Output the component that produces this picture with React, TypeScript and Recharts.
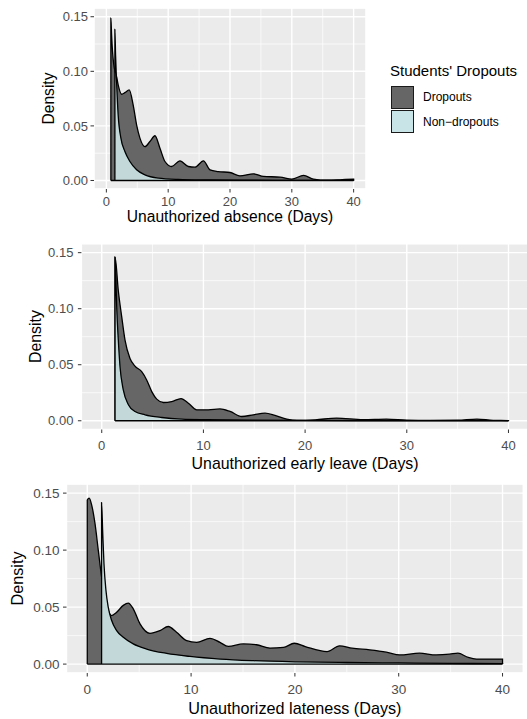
import { ComposedChart, Area, Line, XAxis, YAxis, CartesianGrid } from 'recharts';

const FONT = '"Liberation Sans", Arial, Helvetica, sans-serif';

// axis breaks shared by the three panels
const xTicks = [0, 10, 20, 30, 40];
const xMinorTicks = [5, 15, 25, 35];
const yTicks = [0, 0.05, 0.1, 0.15];
const yMinorTicks = [0.025, 0.075, 0.125];
const X_DOMAIN = [-2, 42];
const Y_DOMAIN = [-0.0078, 0.158];

// unauthorized absence
const absenceDropX = [0.73, 0.73, 0.85, 1.0, 1.2, 1.45, 1.65, 1.91, 2.46, 3.0, 3.7, 4.34, 4.89, 5.43, 6.24, 7.05, 7.86, 8.67, 9.48, 10.57, 11.9, 13.26, 14.34, 15.7, 16.77, 18.1, 20.0, 21.6, 23.8, 25.4, 28.1, 30.0, 31.9, 33.5, 35.7, 37.8, 40, 40];
const absenceDropY = [0, 0.1486, 0.133, 0.118, 0.106, 0.099, 0.095, 0.0876, 0.079, 0.0805, 0.083, 0.069, 0.051, 0.0388, 0.031, 0.0357, 0.041, 0.0296, 0.0174, 0.0128, 0.018, 0.0128, 0.0122, 0.018, 0.0098, 0.0082, 0.0073, 0.0043, 0.0061, 0.0037, 0.0031, 0.0013, 0.0046, 0.0013, 0.0002, 0.0006, 0.0013, 0];
const absenceNonX = [1.38, 1.38, 1.49, 1.65, 1.91, 2.35, 3.0, 3.81, 4.89, 6.24, 8.4, 11.6, 16, 22, 30, 40, 40];
const absenceNonY = [0, 0.1385, 0.115, 0.0906, 0.06, 0.0388, 0.0265, 0.0174, 0.0098, 0.0052, 0.0022, 0.001, 0.0005, 0.0003, 0.0001, 0.0001, 0];

// unauthorized early leave
const earlyDropX = [1.31, 1.31, 1.63, 1.97, 2.29, 2.78, 3.27, 3.93, 4.42, 4.92, 5.41, 6.06, 6.88, 7.8, 8.52, 9.34, 10.48, 11.63, 12.62, 13.77, 14.91, 16.06, 17.04, 18.19, 19.2, 21, 23.1, 25.7, 28.0, 30, 32.3, 35, 36.9, 38.5, 40, 40];
const earlyDropY = [0, 0.146, 0.116, 0.0925, 0.072, 0.0556, 0.0488, 0.0438, 0.0364, 0.026, 0.0193, 0.0163, 0.0171, 0.0198, 0.0157, 0.0098, 0.0098, 0.0106, 0.0083, 0.0038, 0.0053, 0.0068, 0.0048, 0.0015, 0.0003, 0.0008, 0.0024, 0.001, 0.0015, 0.0006, 0.0003, 0.0005, 0.0015, 0.0004, 0.0002, 0];
const earlyNonX = [1.31, 1.31, 1.38, 1.47, 1.63, 1.8, 2.12, 2.62, 3.27, 4.26, 5.9, 7.87, 10.4, 15, 25, 40, 40];
const earlyNonY = [0, 0.146, 0.131, 0.102, 0.072, 0.048, 0.0276, 0.0143, 0.0083, 0.0053, 0.0029, 0.0015, 0.001, 0.0005, 0.0002, 0.0001, 0];

// unauthorized lateness
const latenessDropX = [0, 0, 0.19, 0.42, 0.74, 1.06, 1.38, 1.7, 2.02, 2.35, 2.83, 3.47, 3.95, 4.43, 5.08, 6.04, 7.0, 7.8, 8.6, 9.58, 10.54, 11.82, 12.78, 13.58, 15.03, 16.3, 17.6, 18.9, 19.95, 21.0, 23.1, 24.3, 25.5, 27.2, 28.8, 30.1, 32.0, 33.6, 34.9, 35.7, 36.7, 37.5, 40, 40];
const latenessDropY = [0, 0.144, 0.1456, 0.1397, 0.1236, 0.1, 0.0765, 0.0588, 0.047, 0.0426, 0.0455, 0.0515, 0.0535, 0.0485, 0.0353, 0.027, 0.0294, 0.033, 0.0279, 0.0206, 0.0191, 0.0226, 0.0191, 0.0155, 0.0177, 0.017, 0.0141, 0.0147, 0.0183, 0.0154, 0.011, 0.016, 0.014, 0.0125, 0.0105, 0.0081, 0.0096, 0.0081, 0.0087, 0.0096, 0.0058, 0.0044, 0.0044, 0];
const latenessNonX = [1.38, 1.38, 1.48, 1.61, 1.8, 2.02, 2.35, 2.83, 3.47, 4.43, 5.72, 7.65, 9.9, 12.8, 16, 20.2, 25, 30, 35, 40, 40];
const latenessNonY = [0, 0.1417, 0.1177, 0.088, 0.0647, 0.05, 0.0382, 0.0294, 0.0235, 0.0177, 0.0132, 0.0094, 0.0067, 0.0044, 0.003, 0.002, 0.0014, 0.001, 0.0006, 0.0004, 0];

const DROP_FILL = '#666666';
const NON_FILL = '#c3d8d9';

const toPoints = (xs: number[], ys: number[]) => xs.map((x, i) => ({ x, y: ys[i] }));

interface PanelProps {
  title: string;
  dropX: number[];
  dropY: number[];
  nonX: number[];
  nonY: number[];
  width: number;
  height: number;
  margin: { top: number; right: number; bottom: number; left: number };
  yAxisWidth: number;
  xAxisHeight: number;
  yLabelX: number;
  xLabelOffset: number;
  tickSize: number;
  titleSize: number;
  xTickMargin: number;
  yTickMargin: number;
}

function DensityPanel(p: PanelProps) {
  const drop = toPoints(p.dropX, p.dropY);
  const non = toPoints(p.nonX, p.nonY);
  const base = [{ x: p.dropX[0], y: 0 }, { x: p.dropX[p.dropX.length - 1], y: 0 }];
  const tick = { fill: '#4D4D4D', fontSize: p.tickSize, fontFamily: FONT };

  const xTitle = (props: any) => {
    const vb = props.viewBox;
    return (
      <text x={vb.x + vb.width / 2} y={vb.y + vb.height - p.xLabelOffset} textAnchor="middle" fill="#000" fontSize={p.titleSize} fontFamily={FONT}>
        {p.title}
      </text>
    );
  };
  const yTitle = (props: any) => {
    const vb = props.viewBox;
    const cx = vb.x + p.yLabelX;
    const cy = vb.y + vb.height / 2;
    return (
      <text x={cx} y={cy} dy="0.36em" transform={`rotate(-90, ${cx}, ${cy})`} textAnchor="middle" fill="#000" fontSize={p.titleSize} fontFamily={FONT}>
        Density
      </text>
    );
  };

  return (
    <ComposedChart width={p.width} height={p.height} margin={p.margin}>
      <CartesianGrid xAxisId="minor" yAxisId="minor" fill="#EBEBEB" stroke="#FFFFFF" strokeWidth={0.7} />
      <CartesianGrid stroke="#FFFFFF" strokeWidth={1.4} />
      <XAxis xAxisId="minor" type="number" dataKey="x" domain={X_DOMAIN} ticks={xMinorTicks} allowDataOverflow hide />
      <YAxis yAxisId="minor" type="number" domain={Y_DOMAIN} ticks={yMinorTicks} allowDataOverflow hide />
      <XAxis
        type="number"
        dataKey="x"
        domain={X_DOMAIN}
        ticks={xTicks}
        interval={0}
        allowDataOverflow
        height={p.xAxisHeight}
        axisLine={false}
        tickLine={{ stroke: '#333333' }}
        tickSize={3.5}
        tickMargin={p.xTickMargin}
        tick={tick}
        label={{ position: 'insideBottom', content: xTitle }}
      />
      <YAxis
        type="number"
        domain={Y_DOMAIN}
        ticks={yTicks}
        interval={0}
        allowDataOverflow
        width={p.yAxisWidth}
        axisLine={false}
        tickLine={{ stroke: '#333333' }}
        tickSize={3.5}
        tickMargin={p.yTickMargin}
        tick={tick}
        tickFormatter={(v: number) => v.toFixed(2)}
        label={{ position: 'insideLeft', content: yTitle }}
      />
      <Area data={drop} dataKey="y" type="monotone" fill={DROP_FILL} fillOpacity={1} stroke="#000" strokeWidth={1.3} isAnimationActive={false} />
      <Area data={non} dataKey="y" type="monotone" fill={NON_FILL} fillOpacity={1} stroke="#000" strokeWidth={1.3} isAnimationActive={false} />
      <Line data={base} dataKey="y" stroke="#000" strokeWidth={1.4} dot={false} isAnimationActive={false} />
    </ComposedChart>
  );
}

function LegendBox() {
  const key = (fill: string, top: number) => (
    <div style={{ position: 'absolute', left: 391, top, width: 21, height: 21, background: fill, border: '1.3px solid #1a1a1a' }} />
  );
  return (
    <div style={{ position: 'absolute', left: 0, top: 0, fontFamily: FONT }}>
      <div style={{ position: 'absolute', left: 390, top: 62, fontSize: 15, whiteSpace: 'nowrap', color: '#000' }}>Students' Dropouts</div>
      {key(DROP_FILL, 86)}
      {key('#c8e4e6', 110)}
      <div style={{ position: 'absolute', left: 423, top: 90, fontSize: 12, whiteSpace: 'nowrap', color: '#000' }}>Dropouts</div>
      <div style={{ position: 'absolute', left: 423, top: 115, fontSize: 12, whiteSpace: 'nowrap', color: '#000' }}>Non−dropouts</div>
    </div>
  );
}

export default function App() {
  return (
    <div style={{ position: 'absolute', left: 0, top: 0, width: 527, height: 719, overflow: 'hidden', background: '#fff', fontFamily: FONT }}>
      <div style={{ position: 'absolute', left: 0, top: 0 }}>
        <DensityPanel
          title="Unauthorized absence (Days)"
          dropX={absenceDropX}
          dropY={absenceDropY}
          nonX={absenceNonX}
          nonY={absenceNonY}
          width={370}
          height={230}
          margin={{ top: 8, right: 4, bottom: 0, left: 0 }}
          yAxisWidth={94}
          xAxisHeight={41}
          yLabelX={48}
          xLabelOffset={8}
          tickSize={13}
          titleSize={15.6}
          xTickMargin={4.5}
          yTickMargin={2.5}
        />
      </div>
      <LegendBox />
      <div style={{ position: 'absolute', left: 0, top: 230 }}>
        <DensityPanel
          title="Unauthorized early leave (Days)"
          dropX={earlyDropX}
          dropY={earlyDropY}
          nonX={earlyNonX}
          nonY={earlyNonY}
          width={531}
          height={245}
          margin={{ top: 13.7, right: 2.2, bottom: 0, left: 0 }}
          yAxisWidth={81.4}
          xAxisHeight={45.5}
          yLabelX={35}
          xLabelOffset={6}
          tickSize={13}
          titleSize={15.9}
          xTickMargin={7.5}
          yTickMargin={4.5}
        />
      </div>
      <div style={{ position: 'absolute', left: 0, top: 475 }}>
        <DensityPanel
          title="Unauthorized lateness (Days)"
          dropX={latenessDropX}
          dropY={latenessDropY}
          nonX={latenessNonX}
          nonY={latenessNonY}
          width={527}
          height={244}
          margin={{ top: 9, right: 3.7, bottom: 0, left: 0 }}
          yAxisWidth={66.5}
          xAxisHeight={46}
          yLabelX={17.3}
          xLabelOffset={5}
          tickSize={13.5}
          titleSize={16.2}
          xTickMargin={7.5}
          yTickMargin={3.5}
        />
      </div>
    </div>
  );
}
